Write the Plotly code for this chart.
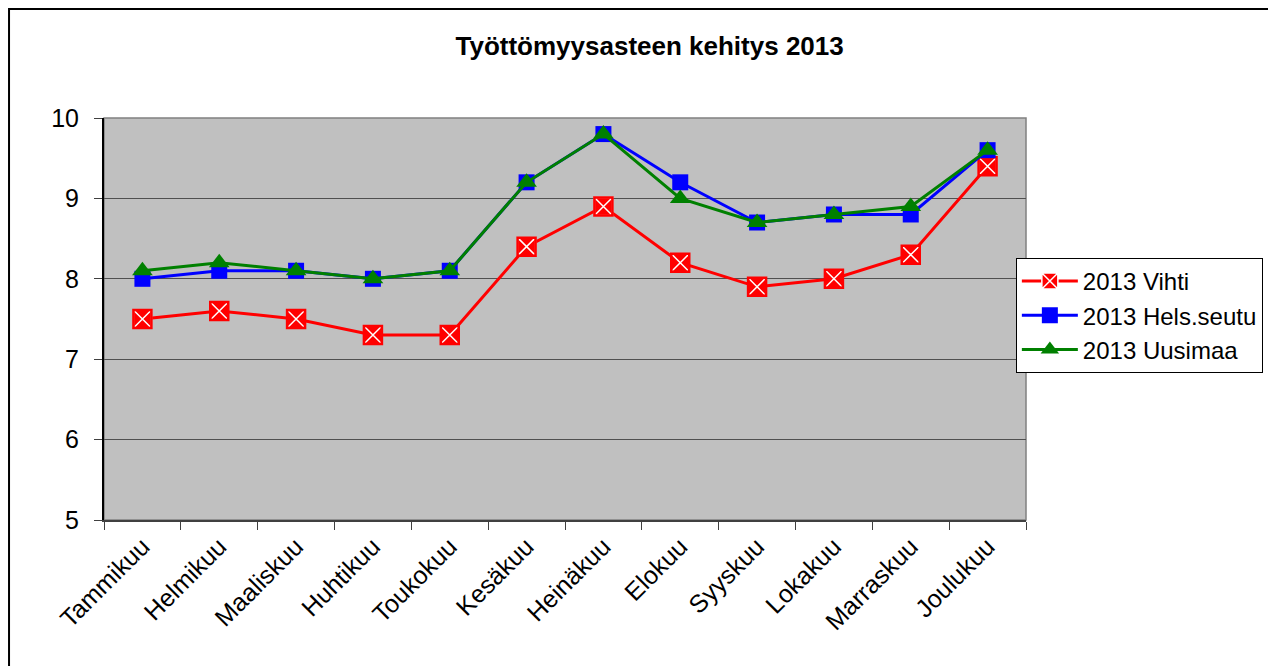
import plotly.graph_objects as go

# Data
months = ['Tammikuu', 'Helmikuu', 'Maaliskuu', 'Huhtikuu', 'Toukokuu', 'Kesäkuu',
          'Heinäkuu', 'Elokuu', 'Syyskuu', 'Lokakuu', 'Marraskuu', 'Joulukuu']
vihti = [7.5, 7.6, 7.5, 7.3, 7.3, 8.4, 8.9, 8.2, 7.9, 8.0, 8.3, 9.4]
helsseutu = [8.0, 8.1, 8.1, 8.0, 8.1, 9.2, 9.8, 9.2, 8.7, 8.8, 8.8, 9.6]
uusimaa = [8.1, 8.2, 8.1, 8.0, 8.1, 9.2, 9.8, 9.0, 8.7, 8.8, 8.9, 9.6]

FONT = 'Liberation Sans, Arial, sans-serif'

fig = go.Figure()

fig.add_trace(go.Scatter(
    x=months, y=vihti, name='2013 Vihti', mode='lines+markers',
    line=dict(color='#FF0000', width=3),
    marker=dict(symbol='square-x', size=18, color='#FF0000',
                line=dict(color='white', width=1.5))
))
# red rim over the white outline of the square-x markers
fig.add_trace(go.Scatter(
    x=months, y=vihti, mode='markers', showlegend=False, hoverinfo='skip',
    marker=dict(symbol='square-open', size=18, color='#FF0000', line=dict(width=2.5))
))
fig.add_trace(go.Scatter(
    x=months, y=helsseutu, name='2013 Hels.seutu', mode='lines+markers',
    line=dict(color='#0000FF', width=3),
    marker=dict(symbol='square', size=16, color='#0000FF')
))
fig.add_trace(go.Scatter(
    x=months, y=uusimaa, name='2013 Uusimaa', mode='lines+markers',
    line=dict(color='#008000', width=3),
    marker=dict(symbol='triangle-up', size=18, color='#008000')
))

# plot area frame (grey top/right) and outer chart border
fig.add_shape(type='rect', xref='paper', yref='paper', x0=0, x1=1, y0=0, y1=1,
              line=dict(color='#808080', width=1.5), layer='below')
fig.add_shape(type='rect', xref='paper', yref='paper',
              x0=-0.103, x1=1.270, y0=-0.4, y1=1.271,
              line=dict(color='black', width=2))

fig.update_layout(
    width=1268, height=658,
    margin=dict(l=96, r=250, t=110, b=146),
    paper_bgcolor='white',
    plot_bgcolor='#C0C0C0',
    font=dict(family=FONT, color='black', size=24),
    title=dict(text='<b>Työttömyysasteen kehitys 2013</b>', x=0.506, xanchor='center',
               y=0.942, yanchor='middle', font=dict(size=26, family=FONT)),
    showlegend=True,
    legend=dict(x=0.989, y=0.652, xanchor='left', yanchor='top',
                bgcolor='white', bordercolor='black', borderwidth=1,
                itemwidth=56,
                font=dict(size=24, family=FONT), tracegroupgap=0),
)

fig.update_xaxes(
    type='category', range=[-0.5, 11.5], tickangle=-45, tickson='boundaries',
    ticks='outside', ticklen=8, tickcolor='#404040',
    showline=True, linecolor='#404040', linewidth=2,
    showgrid=False, automargin=False, tickfont=dict(size=25, family=FONT),
)
fig.update_yaxes(
    range=[5, 10], dtick=1, ticks='outside', ticklen=8, tickcolor='#404040',
    showline=True, linecolor='black', linewidth=2, ticklabelstandoff=10,
    showgrid=True, gridcolor='#505050', gridwidth=1, zeroline=False,
    automargin=False, tickfont=dict(size=25, family=FONT),
)

fig.write_html('out.html')
